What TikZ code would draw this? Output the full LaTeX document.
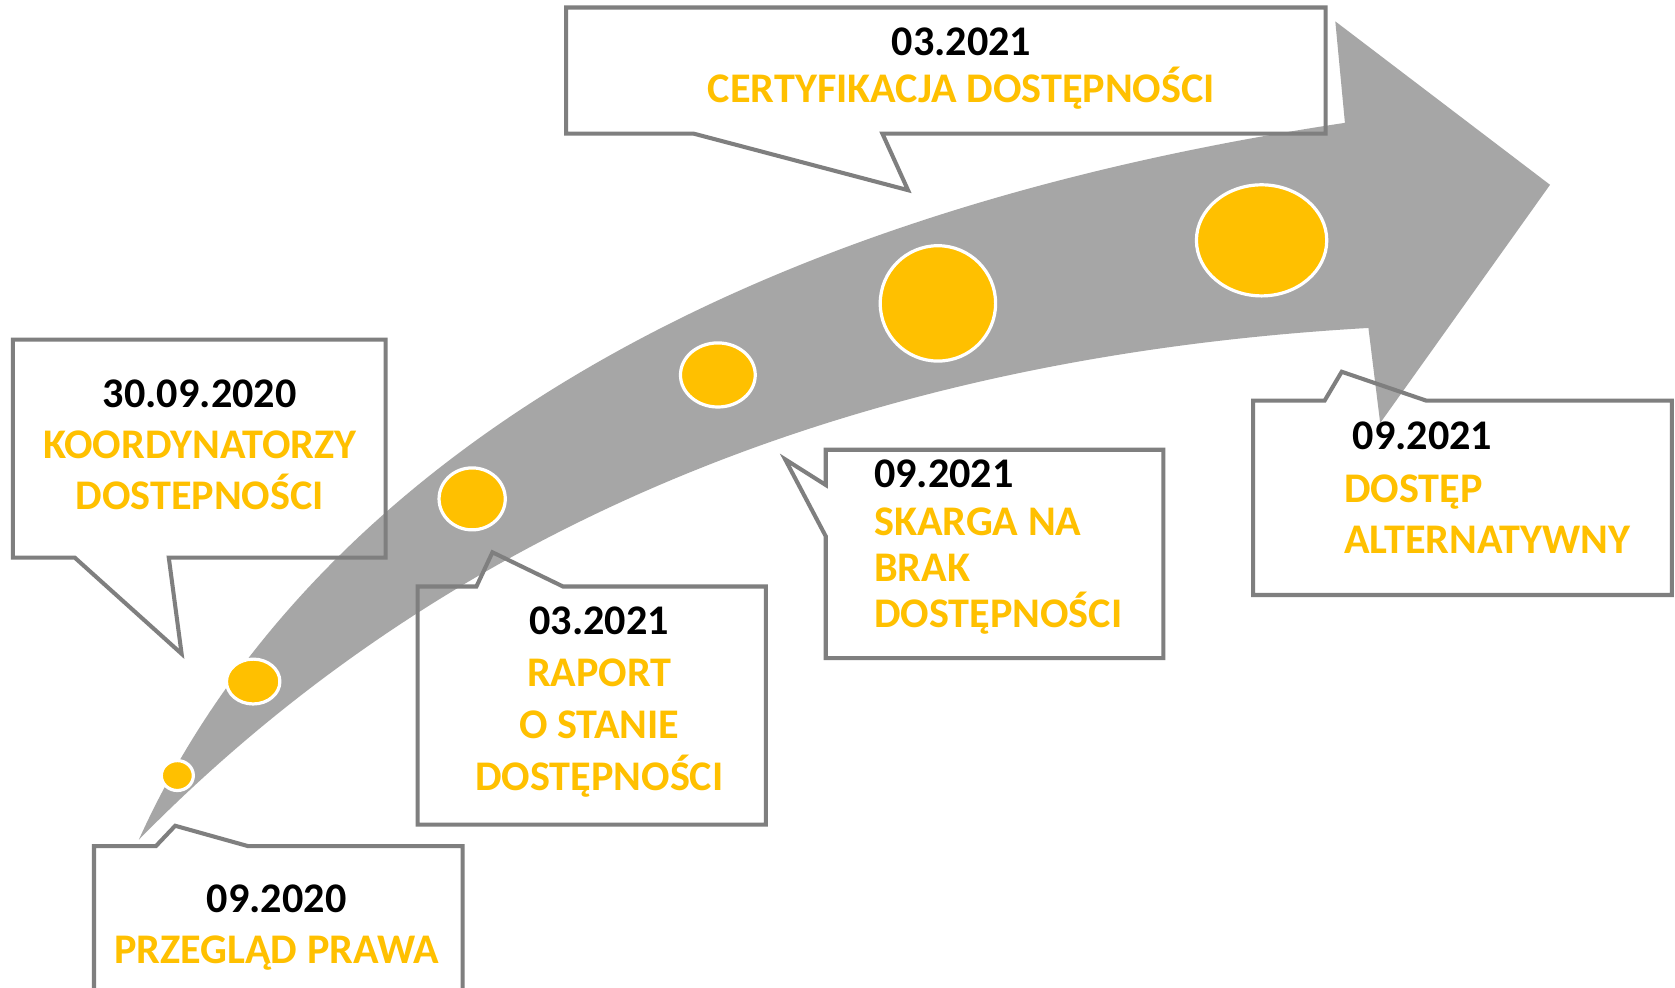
\documentclass[tikz,border=0pt]{standalone}
\usepackage{fontspec}
\setmainfont{Carlito}
\definecolor{arrowgray}{HTML}{A6A6A6}
\definecolor{boxgray}{HTML}{7F7F7F}
\definecolor{goldy}{HTML}{FFC000}
\tikzset{
  calloutbox/.style={draw=boxgray, line width=3.8pt, line join=miter},
  dot/.style={fill=goldy, draw=white, line width=3pt},
  datetxt/.style={inner sep=0pt, anchor=base, text=black, font=\fontsize{39.5}{47}\selectfont\bfseries},
  evtxt/.style={inner sep=0pt, anchor=base, text=goldy, font=\fontsize{39.5}{47}\selectfont\bfseries},
  datetxtl/.style={datetxt, anchor=base west},
  evtxtl/.style={evtxt, anchor=base west}
}
\begin{document}
\begin{tikzpicture}[x=1pt,y=-1pt]
\useasboundingbox (0,0) rectangle (1568,924);
\fill[white] (0,0) rectangle (1568,924);
% big curved arrow
\fill[arrowgray] (130,786) .. controls (250,520) and (560,220) .. (1259,115)
  -- (1250,20) -- (1451,173) -- (1292,396) -- (1281,307)
  .. controls (880,330) and (460,450) .. (130,786) -- cycle;
% dots
\filldraw[dot] (166,726) ellipse [x radius=15, y radius=14];
\filldraw[dot] (237,638) ellipse [x radius=25, y radius=21];
\filldraw[dot] (442,467) ellipse [x radius=31, y radius=29];
\filldraw[dot] (672,351) ellipse [x radius=35, y radius=30];
\filldraw[dot] (878,284) ellipse [x radius=54, y radius=54];
\filldraw[dot] (1181,225) ellipse [x radius=61, y radius=52];
% callout boxes
\draw[calloutbox] (12,318) -- (361,318) -- (361,522) -- (158,522) -- (170,612) -- (70,522) -- (12,522) -- cycle;
\draw[calloutbox] (530,7) -- (1241,7) -- (1241,125) -- (826,125) -- (850,178) -- (649,125) -- (530,125) -- cycle;
\draw[calloutbox] (391,549) -- (446,549) -- (461,517) -- (527,549) -- (717,549) -- (717,772) -- (391,772) -- cycle;
\draw[calloutbox] (773,421) -- (1089,421) -- (1089,616) -- (773,616) -- (773,502) -- (735,430) -- (773,454) -- cycle;
\draw[calloutbox] (1173,375) -- (1240,375) -- (1256,348) -- (1335,375) -- (1565,375) -- (1565,557) -- (1173,557) -- cycle;
\draw[calloutbox] (88,792) -- (146,792) -- (164,773) -- (232,792) -- (433,792) -- (433,950) -- (88,950) -- cycle;
% texts
\node[datetxt] (a1) at (187,381) {30.09.2020};
\node[evtxt] (a2) at (187,429) {KOORDYNATORZY};
\node[evtxt] (a3) at (187,477) {DOSTEPNOŚCI};
\node[datetxt] (b1) at (900,52) {03.2021};
\node[evtxt] (b2) at (900,96) {CERTYFIKACJA DOSTĘPNOŚCI};
\node[datetxt] (c1) at (561,594) {03.2021};
\node[evtxt] (c2) at (561,643) {RAPORT};
\node[evtxt] (c3) at (561,691) {O STANIE};
\node[evtxt] (c4) at (561,740) {DOSTĘPNOŚCI};
\node[datetxtl] (d1) at (818,456) {09.2021};
\node[evtxtl] (d2) at (818,501) {SKARGA NA};
\node[evtxtl] (d3) at (818,544) {BRAK};
\node[evtxtl] (d4) at (818,587) {DOSTĘPNOŚCI};
\node[datetxtl] (e1) at (1266,421) {09.2021};
\node[evtxtl] (e2) at (1258,470) {DOSTĘP};
\node[evtxtl] (e3) at (1258,518) {ALTERNATYWNY};
\node[datetxt] (f1) at (259,854) {09.2020};
\node[evtxt] (f2) at (259,902) {PRZEGLĄD PRAWA};
\end{tikzpicture}
\end{document}
